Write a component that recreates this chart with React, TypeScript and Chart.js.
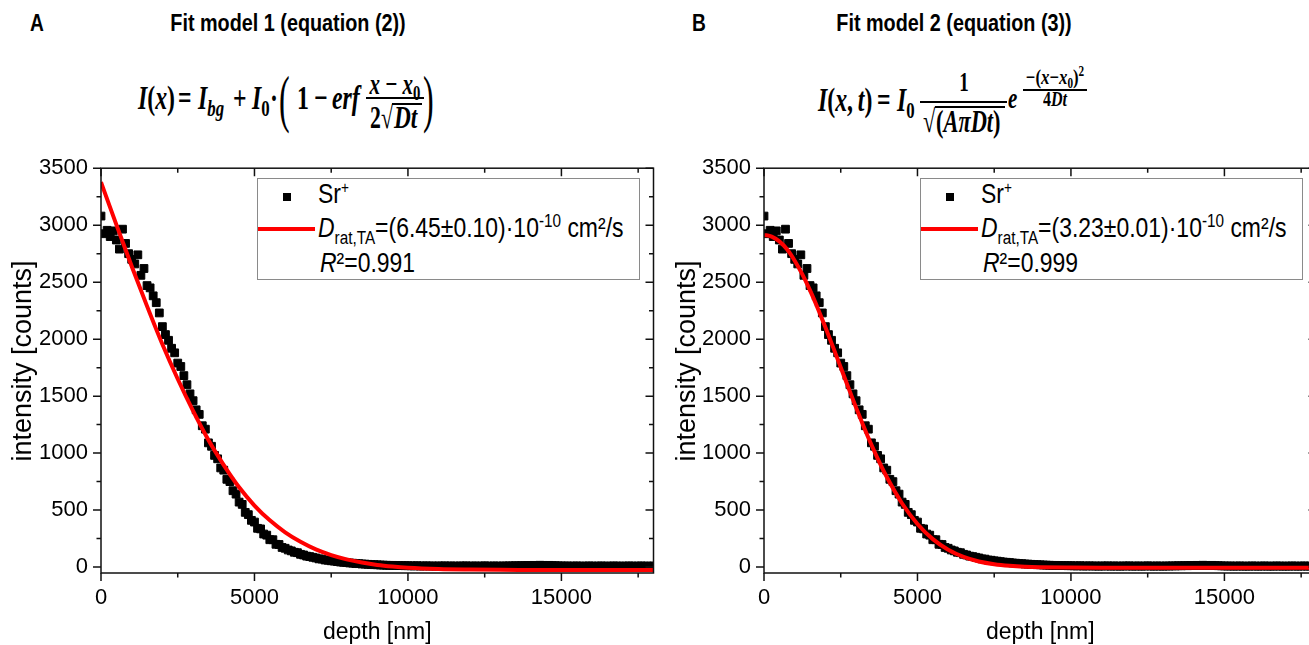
import React, { useEffect, useRef } from "react";
import { Chart, registerables } from "chart.js";

Chart.register(...registerables);

// ---------- data ----------
const depthNm = [
  0, 100, 200, 300, 400, 500, 600, 700, 800, 900,
  1000, 1100, 1200, 1300, 1400, 1500, 1600, 1700, 1800, 1900,
  2000, 2100, 2200, 2300, 2400, 2500, 2600, 2700, 2800, 2900,
  3000, 3100, 3200, 3300, 3400, 3500, 3600, 3700, 3800, 3900,
  4000, 4100, 4200, 4300, 4400, 4500, 4600, 4700, 4800, 4900,
  5000, 5100, 5200, 5300, 5400, 5500, 5600, 5700, 5800, 5900,
  6000, 6100, 6200, 6300, 6400, 6500, 6600, 6700, 6800, 6900,
  7000, 7100, 7200, 7300, 7400, 7500, 7600, 7700, 7800, 7900,
  8000, 8100, 8200, 8300, 8400, 8500, 8600, 8700, 8800, 8900,
  9000, 9100, 9200, 9300, 9400, 9500, 9600, 9700, 9800, 9900,
  10000, 10100, 10200, 10300, 10400, 10500, 10600, 10700, 10800, 10900,
  11000, 11100, 11200, 11300, 11400, 11500, 11600, 11700, 11800, 11900,
  12000, 12100, 12200, 12300, 12400, 12500, 12600, 12700, 12800, 12900,
  13000, 13100, 13200, 13300, 13400, 13500, 13600, 13700, 13800, 13900,
  14000, 14100, 14200, 14300, 14400, 14500, 14600, 14700, 14800, 14900,
  15000, 15100, 15200, 15300, 15400, 15500, 15600, 15700, 15800, 15900,
  16000, 16100, 16200, 16300, 16400, 16500, 16600, 16700, 16800, 16900,
  17000, 17100, 17200, 17300, 17400, 17500, 17600, 17700, 17800, 17900,
  18000,
];

const srCounts = [
  3080, 2925, 2955, 2900, 2950, 2870, 2790, 2965, 2840, 2750,
  2700, 2660, 2740, 2560, 2620, 2470, 2450, 2380, 2320, 2230,
  2110, 2040, 1990, 1920, 1880, 1790, 1760, 1680, 1600, 1520,
  1460, 1380, 1340, 1240, 1210, 1090, 1060, 980, 950, 870,
  850, 770, 750, 670, 640, 570, 550, 480, 460, 410,
  395, 340, 335, 290, 280, 240, 240, 200, 198, 172,
  165, 150, 142, 130, 126, 112, 106, 96, 92, 86,
  80, 72, 70, 62, 60, 55, 52, 48, 44, 42,
  40, 36, 34, 31, 30, 27, 26, 24, 22, 21,
  20, 18, 17, 16, 15, 15, 14, 13, 13, 12,
  12, 11, 10, 12, 9, 10, 11, 9, 10, 8,
  10, 9, 11, 8, 10, 9, 8, 10, 9, 11,
  8, 9, 10, 8, 9, 11, 9, 8, 10, 9,
  8, 10, 9, 11, 10, 12, 11, 13, 12, 14,
  13, 15, 14, 16, 15, 14, 15, 13, 12, 11,
  10, 9, 10, 8, 9, 10, 8, 9, 8, 10,
  9, 8, 9, 10, 8, 9, 8, 10, 9, 8,
  9, 8, 10, 9, 8, 9, 10, 8, 9, 8,
  9,
];

// fit model 1 (erf)
const fit1Depth = [
  0, 500, 1000, 1500, 2000, 2500, 3000, 3500, 4000, 4500,
  5000, 5500, 6000, 6500, 7000, 7500, 8000, 8500, 9000, 9500,
  10000, 11000, 12000, 13000, 14000, 15000, 16000, 17000, 18000,
];
const fit1Counts = [
  3378, 3005, 2640, 2290, 1955, 1650, 1370, 1115, 895, 700,
  540, 410, 305, 222, 155, 105, 68, 40, 19, 5,
  -5, -16, -21, -24, -25, -26, -26, -26, -26,
];

// fit model 2 (gaussian)
const fit2Depth = [
  0, 250, 500, 750, 1000, 1250, 1500, 1750, 2000, 2250,
  2500, 2750, 3000, 3250, 3500, 3750, 4000, 4500, 5000, 5500,
  6000, 6500, 7000, 7500, 8000, 8500, 9000, 10000, 11000, 12000,
  13000, 14000, 15000, 16000, 17000, 18000,
];
const fit2Counts = [
  2915, 2900, 2858, 2788, 2688, 2568, 2428, 2272, 2104, 1930,
  1752, 1574, 1399, 1232, 1073, 925, 790, 558, 378, 245,
  152, 89, 49, 25, 11, 3, -1, -4, -5, -5,
  -5, -5, -5, -5, -5, -5,
];

// axes
const X_MIN = 0;
const X_MAX = 18000;
const Y_MIN = -52;
const Y_MAX = 3500;
const xTickValues = [0, 2500, 5000, 7500, 10000, 12500, 15000, 17500];
const xTickLabels = ["0", "", "5000", "", "10000", "", "15000", ""];
const yTickValues = [0, 250, 500, 750, 1000, 1250, 1500, 1750, 2000, 2250, 2500, 2750, 3000, 3250, 3500];
const yTickLabels = ["0", "", "500", "", "1000", "", "1500", "", "2000", "", "2500", "", "3000", "", "3500"];

const xTitle = "depth [nm]";
const yTitle = "intensity [counts]";

// ---------- styling ----------
const SANS = '"Liberation Sans", Arial, sans-serif';
const SERIF = '"Liberation Serif", "Times New Roman", serif';

const CANVAS_TOP = 142;
const CANVAS_H = 503;
const PLOT_W = 554;

const framePlugin = {
  id: "frameTicks",
  afterDraw(chart: any) {
    const { ctx, chartArea: a } = chart;
    const xs = chart.scales.x;
    const ys = chart.scales.y;
    ctx.save();
    ctx.strokeStyle = "#111";
    ctx.lineWidth = 1.5;
    ctx.beginPath();
    xs.ticks.forEach((t: any, i: number) => {
      const px = xs.getPixelForValue(t.value);
      const L = xTickLabels[i] ? 8 : 4.5;
      ctx.moveTo(px, a.bottom);
      ctx.lineTo(px, a.bottom + L);
      ctx.moveTo(px, a.top);
      ctx.lineTo(px, a.top + L);
    });
    ys.ticks.forEach((t: any, i: number) => {
      const py = ys.getPixelForValue(t.value);
      const L = yTickLabels[i] ? 8 : 4.5;
      ctx.moveTo(a.left - L, py);
      ctx.lineTo(a.left, py);
      ctx.moveTo(a.right - L, py);
      ctx.lineTo(a.right, py);
    });
    ctx.stroke();
    ctx.strokeRect(a.left, a.top, a.right - a.left, a.bottom - a.top);
    ctx.restore();
  },
};

type ChartProps = {
  canvasLeft: number;
  yWidth: number;
  padRight: number;
  fitDepth: number[];
  fitCounts: number[];
};

function DepthChart(p: ChartProps) {
  const ref = useRef<HTMLCanvasElement | null>(null);
  const canvasWidth = p.yWidth + PLOT_W + p.padRight;
  useEffect(() => {
    if (!ref.current) return;
    const chart = new Chart(ref.current, {
      type: "scatter",
      data: {
        datasets: [
          {
            label: "fit",
            data: p.fitDepth.map((x, i) => ({ x, y: p.fitCounts[i] })),
            showLine: true,
            borderColor: "#ff0000",
            backgroundColor: "#ff0000",
            borderWidth: 4,
            pointRadius: 0,
            cubicInterpolationMode: "monotone",
            fill: false,
            order: 0,
          } as any,
          {
            label: "Sr+",
            data: depthNm.map((x, i) => ({ x, y: srCounts[i] })),
            showLine: false,
            pointStyle: "rect",
            pointRadius: 5.5,
            borderWidth: 1,
            backgroundColor: "#000",
            borderColor: "#000",
            order: 1,
          } as any,
        ],
      },
      options: {
        responsive: false,
        maintainAspectRatio: false,
        animation: false,
        devicePixelRatio: 1,
        events: [],
        layout: { padding: { left: 0, top: 15, right: p.padRight, bottom: 0 } },
        plugins: { legend: { display: false }, tooltip: { enabled: false } },
        scales: {
          x: {
            type: "linear",
            min: X_MIN,
            max: X_MAX,
            afterBuildTicks: (s: any) => {
              s.ticks = xTickValues.map((v) => ({ value: v }));
            },
            afterFit: (s: any) => {
              s.height = 72;
            },
            grid: { display: false, drawTicks: false },
            border: { display: false },
            ticks: {
              autoSkip: false,
              maxRotation: 0,
              padding: 12,
              color: "#000",
              font: { family: SANS, size: 22 },
              callback: (_v: any, i: number) => xTickLabels[i],
            },
            title: {
              display: true,
              text: xTitle,
              color: "#000",
              font: { family: SANS, size: 23, lineHeight: 1 },
              padding: { top: 0, bottom: 0.5 },
            },
          },
          y: {
            type: "linear",
            min: Y_MIN,
            max: Y_MAX,
            afterBuildTicks: (s: any) => {
              s.ticks = yTickValues.map((v) => ({ value: v }));
            },
            afterFit: (s: any) => {
              s.width = p.yWidth;
            },
            grid: { display: false, drawTicks: false },
            border: { display: false },
            ticks: {
              autoSkip: false,
              padding: 13,
              color: "#000",
              font: { family: SANS, size: 22 },
              callback: (_v: any, i: number) => yTickLabels[i],
            },
            title: { display: false },
          },
        },
      },
      plugins: [framePlugin],
    } as any);
    return () => chart.destroy();
  }, []);
  return (
    <canvas
      ref={ref}
      width={canvasWidth}
      height={CANVAS_H}
      style={{ position: "absolute", left: p.canvasLeft, top: CANVAS_TOP, width: canvasWidth, height: CANVAS_H }}
    />
  );
}

// ---------- text helpers ----------
type TProps = {
  x: number;
  base: number;
  size: number;
  sx?: number;
  center?: boolean;
  children: React.ReactNode;
  style?: React.CSSProperties;
};

function T(props: TProps) {
  const sx = props.sx ?? 1;
  const c = props.center;
  return (
    <div
      style={{
        position: "absolute",
        left: c ? props.x - 200 : props.x,
        width: c ? 400 : undefined,
        textAlign: c ? "center" : "left",
        top: props.base - 0.84 * props.size,
        fontSize: props.size,
        lineHeight: `${props.size}px`,
        whiteSpace: "nowrap",
        transform: `scaleX(${sx})`,
        transformOrigin: c ? "center" : "left",
        ...props.style,
      }}
    >
      {props.children}
    </div>
  );
}

function YTitle(props: { cx: number; cy: number }) {
  return (
    <div
      style={{
        position: "absolute",
        left: props.cx - 150,
        top: props.cy - 15,
        width: 300,
        height: 30,
        lineHeight: "30px",
        textAlign: "center",
        fontSize: 27,
        whiteSpace: "nowrap",
        transform: "rotate(-90deg)",
        transformOrigin: "center",
      }}
    >
      {yTitle}
    </div>
  );
}

const Sub = (props: { children: React.ReactNode; size: number; dy: number }) => (
  <span style={{ fontSize: props.size, position: "relative", top: props.dy }}>{props.children}</span>
);

function Bar(props: { x: number; y: number; w: number; h?: number }) {
  return (
    <div style={{ position: "absolute", left: props.x, top: props.y, width: props.w, height: props.h ?? 2, background: "#000" }} />
  );
}

function Legend(props: { left: number; dText: React.ReactNode; r2: string }) {
  const L = props.left;
  const size = 27;
  const sx = 0.85;
  return (
    <>
      <div
        style={{
          position: "absolute",
          left: L,
          top: 178,
          width: 383,
          height: 102,
          border: "1px solid #8a8a8a",
          boxSizing: "border-box",
          background: "#fff",
        }}
      />
      <div style={{ position: "absolute", left: L + 26, top: 193, width: 8, height: 8, background: "#000" }} />
      <T x={L + 61} base={204} size={size} sx={sx}>
        Sr<Sub size={16} dy={-10}>+</Sub>
      </T>
      <div style={{ position: "absolute", left: L + 1, top: 227, width: 57, height: 4, background: "#ff0000" }} />
      <T x={L + 61} base={238} size={size} sx={sx}>
        {props.dText}
      </T>
      <T x={L + 63} base={273} size={size} sx={sx}>
        <i>R</i>²={props.r2}
      </T>
    </>
  );
}

function DText(props: { value: string }) {
  return (
    <>
      <i>D</i>
      <Sub size={18} dy={7}>rat,TA</Sub>={props.value}·10<Sub size={18} dy={-10}>-10</Sub> cm²/s
    </>
  );
}

export default function App() {
  const eq: React.CSSProperties = { fontFamily: SERIF, fontWeight: 700 };
  const paren: React.CSSProperties = { fontFamily: SERIF, fontWeight: 400 };
  const title: React.CSSProperties = { fontFamily: SANS, fontWeight: 700 };
  const ES = 34; // equation font size
  const EX = 0.7; // equation horizontal squeeze
  return (
    <div
      style={{
        position: "fixed",
        left: 0,
        top: 0,
        width: 1309,
        height: 645,
        overflow: "hidden",
        background: "#fff",
        fontFamily: SANS,
        color: "#000",
      }}
    >
      {/* panel letters and titles */}
      <T x={30} base={31} size={24} sx={0.8} style={title}>A</T>
      <T x={288} base={31} size={24} sx={0.825} center style={title}>
        Fit model 1 (equation (2))
      </T>
      <T x={692} base={31} size={24} sx={0.8} style={title}>B</T>
      <T x={954} base={31} size={24} sx={0.825} center style={title}>
        Fit model 2 (equation (3))
      </T>

      {/* equation A */}
      <T x={138} base={110} size={ES} sx={EX} style={eq}><i>I</i>(<i>x</i>)</T>
      <T x={178} base={110} size={ES} sx={EX} style={eq}>=</T>
      <T x={198} base={110} size={ES} sx={EX} style={eq}>
        <i>I</i><Sub size={24} dy={7}><i>bg</i></Sub>
      </T>
      <T x={233} base={110} size={ES} sx={EX} style={eq}>+</T>
      <T x={252} base={110} size={ES} sx={EX} style={eq}>
        <i>I</i><Sub size={24} dy={7}>0</Sub>
      </T>
      <T x={270} base={110} size={ES} sx={EX} style={eq}>·</T>
      <T x={279} base={121} size={64} sx={0.5} style={paren}>(</T>
      <T x={297} base={110} size={ES} sx={EX} style={eq}>1</T>
      <T x={314} base={110} size={ES} sx={EX} style={eq}>−</T>
      <T x={332} base={110} size={ES} sx={EX} style={eq}><i>erf</i></T>
      <T x={395} base={94} size={30} sx={EX} center style={eq}>
        <i>x</i> − <i>x</i><Sub size={21} dy={6}>0</Sub>
      </T>
      <Bar x={366} y={97} w={58} />
      <T x={370} base={128} size={31} sx={EX} style={eq}>2</T>
      <T x={381} base={128} size={31} sx={EX} style={eq}>√</T>
      <T x={394} base={128} size={31} sx={0.75} style={eq}><i>Dt</i></T>
      <Bar x={392} y={103} w={30} />
      <T x={423} base={121} size={64} sx={0.5} style={paren}>)</T>

      {/* equation B */}
      <T x={818} base={112} size={ES} sx={EX} style={eq}>
        <i>I</i>(<i>x</i>,{"\u2009"}<i>t</i>)
      </T>
      <T x={877} base={112} size={ES} sx={EX} style={eq}>=</T>
      <T x={897} base={112} size={ES} sx={EX} style={eq}>
        <i>I</i><Sub size={24} dy={7}>0</Sub>
      </T>
      <T x={964} base={92} size={27} sx={EX} center style={eq}>1</T>
      <Bar x={920} y={101} w={87} />
      <T x={923} base={132} size={32} sx={EX} style={eq}>√</T>
      <T x={936} base={132} size={32} sx={EX} style={eq}>
        (<i>AπDt</i>)
      </T>
      <Bar x={935} y={106} w={70} />
      <T x={1008} base={108} size={30} sx={EX} style={eq}><i>e</i></T>
      <T x={1055} base={85} size={21} sx={0.8} center style={eq}>
        −(<i>x</i>−<i>x</i><Sub size={14} dy={4}>0</Sub>)<Sub size={14} dy={-8}>2</Sub>
      </T>
      <Bar x={1023} y={89} w={64} h={1.5} />
      <T x={1055} base={106} size={20} sx={0.8} center style={eq}>
        4<i>Dt</i>
      </T>

      {/* charts */}
      <DepthChart canvasLeft={0} yWidth={101} padRight={5} fitDepth={fit1Depth} fitCounts={fit1Counts} />
      <DepthChart canvasLeft={660} yWidth={104} padRight={5} fitDepth={fit2Depth} fitCounts={fit2Counts} />

      {/* y axis titles */}
      <YTitle cx={22} cy={361} />
      <YTitle cx={686} cy={361} />

      {/* legends */}
      <Legend left={257} dText={<DText value="(6.45±0.10)" />} r2="0.991" />
      <Legend left={920} dText={<DText value="(3.23±0.01)" />} r2="0.999" />
    </div>
  );
}
